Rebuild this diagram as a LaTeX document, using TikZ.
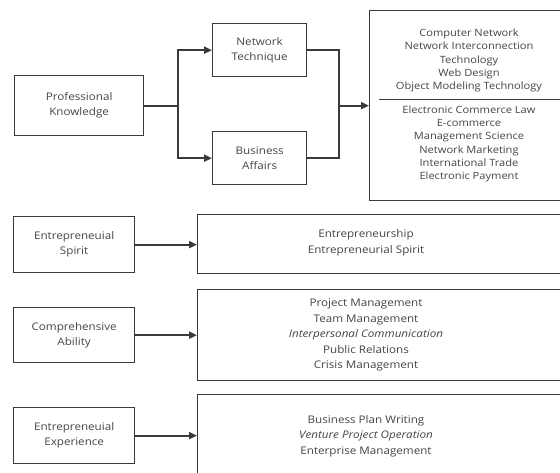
\documentclass[tikz,border=0pt]{standalone}
\usepackage{fontspec}
\setmainfont[FakeStretch=1.11]{Open Sans}
\usetikzlibrary{arrows.meta}
\definecolor{ln}{HTML}{3A3A3A}
\definecolor{tx}{HTML}{444444}
\begin{document}
\begin{tikzpicture}[x=1pt,y=-1pt,
 box/.style={draw=ln,line width=1.3pt,inner sep=0pt,anchor=north west,text=tx,align=center,font=\fontsize{10.5}{15}\selectfont},
 conn/.style={draw=ln,line width=2pt},
 arr/.style={conn,-{Triangle[length=8pt,width=7pt]}},
 txt/.style={text=tx,align=center,inner sep=0pt,font=\fontsize{10.5}{15.5}\selectfont},
 txtsm/.style={text=tx,align=center,inner sep=0pt,font=\fontsize{10}{13.2}\selectfont}]
\useasboundingbox (0,0) rectangle (560,473);
\clip (0,0) rectangle (560,473);
% first row
\node[box,minimum width=129pt,minimum height=60pt] (pk) at (14,75) {Professional\\Knowledge};
\node[box,minimum width=94pt,minimum height=53pt] (nt) at (212,23) {Network\\Technique};
\node[box,minimum width=94pt,minimum height=53pt] (ba) at (212,131) {Business\\Affairs};
\node[box,minimum width=200pt,minimum height=190pt] (b1) at (369,10) {};
\node[txtsm] (t1a) at (469,60.5) {Computer Network\\Network Interconnection\\Technology\\Web Design\\Object Modeling Technology};
\node[txtsm] (t1b) at (469,144) {Electronic Commerce Law\\E-commerce\\Management Science\\Network Marketing\\International Trade\\Electronic Payment};
\coordinate (sepl) at (379,99);
\coordinate (sepr) at (570,99);
\draw[ln,line width=0.9pt] (sepl) -- (sepr);
\path (pk.east) ++(34,0) coordinate (jl);
\path (pk.east) ++(195,0) coordinate (jr);
\draw[conn] (pk.east) -- (jl);
\draw[arr] (jl) |- (nt.west);
\draw[arr] (jl) |- (ba.west);
\draw[conn] (nt.east) -| (jr);
\draw[conn] (ba.east) -| (jr);
\draw[arr] (jr) -- (b1.west |- jr);
% second row
\node[box,minimum width=121pt,minimum height=56pt] (es) at (13,216) {Entrepreneuial\\Spirit};
\node[box,minimum width=380pt,minimum height=59pt] (b2) at (197,214) {};
\node[txt] (t2) at (366,243) {Entrepreneurship\\Entrepreneurial Spirit};
\draw[arr] (es.east) -- (b2.west |- es.east);
% third row
\node[box,minimum width=121pt,minimum height=55pt] (ca) at (13,307) {Comprehensive\\Ability};
\node[box,minimum width=380pt,minimum height=91pt] (b3) at (197,289) {};
\node[txt] (t3) at (366,335) {Project Management\\Team Management\\\textit{Interpersonal Communication}\\Public Relations\\Crisis Management};
\draw[arr] (ca.east) -- (b3.west |- ca.east);
% fourth row
\node[box,minimum width=121pt,minimum height=56pt] (ee) at (13,407) {Entrepreneuial\\Experience};
\node[box,minimum width=380pt,minimum height=100pt] (b4) at (197,394) {};
\node[txt] (t4) at (366,436) {Business Plan Writing\\\textit{Venture Project Operation}\\Enterprise Management};
\draw[arr] (ee.east) -- (b4.west |- ee.east);
\end{tikzpicture}
\end{document}
